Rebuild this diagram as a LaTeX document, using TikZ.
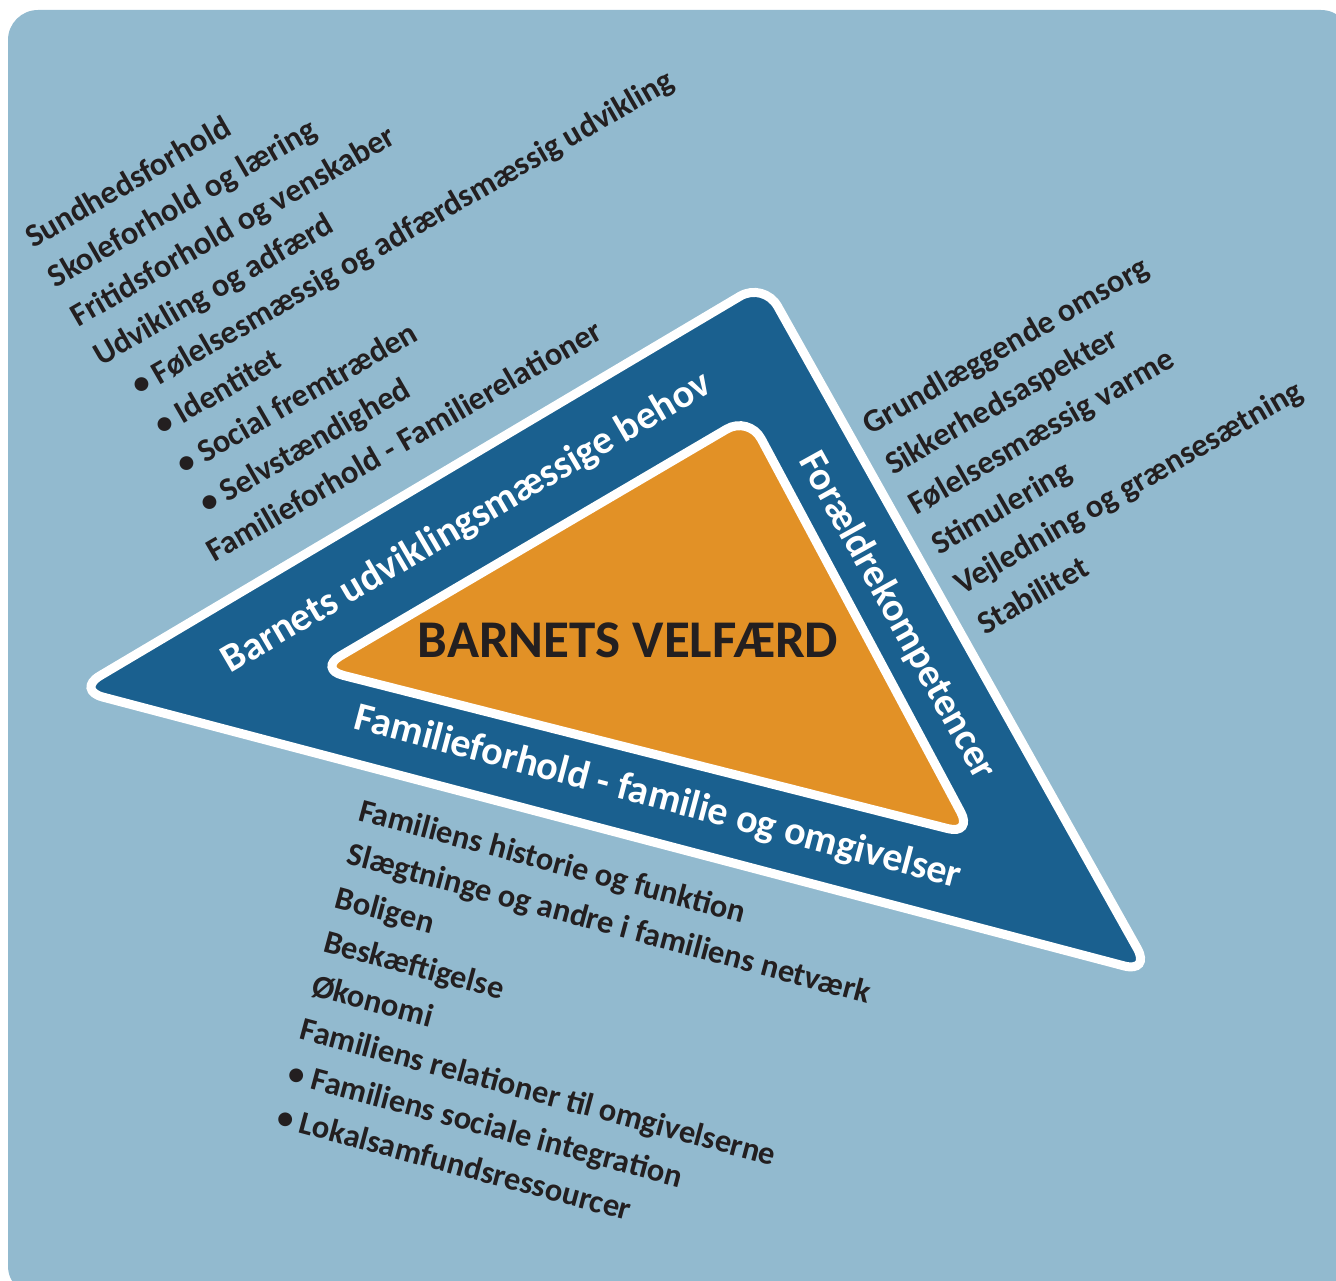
\documentclass[tikz,border=0pt]{standalone}
\usepackage{fontspec}
\setmainfont{Carlito}
\definecolor{bgblue}{RGB}{146,186,207}
\definecolor{darkblue}{RGB}{26,96,143}
\definecolor{myorange}{RGB}{226,145,38}
\definecolor{txt}{RGB}{35,31,32}
\begin{document}
\begin{tikzpicture}[x=1pt,y=-1pt,
  listtext/.style={anchor=base west, inner sep=0pt, text=txt, font=\bfseries\fontsize{32.5}{38}\selectfont},
  bandtext/.style={inner sep=0pt, text=white, font=\bfseries\fontsize{40}{46}\selectfont},
  titletext/.style={inner sep=0pt, text=txt, font=\bfseries\fontsize{53}{60}\selectfont},
  rim/.style={draw=white, line width=9pt}]
\useasboundingbox (0,0) rectangle (1336,1281);
% background panel
\fill[bgblue, rounded corners=30pt] (8,10) rectangle (1351,1296);
% outer triangle
\coordinate (oA) at (76,690);
\coordinate (oB) at (764,282);
\coordinate (oC) at (1151,973);
\draw[rim, fill=darkblue, rounded corners=28pt] (oA) -- (oB) -- (oC) -- cycle;
% inner triangle
\coordinate (iA) at (318,669);
\coordinate (iB) at (749,416);
\coordinate (iC) at (973,835);
\draw[rim, fill=myorange, rounded corners=26pt] (iA) -- (iB) -- (iC) -- cycle;
% band labels
\node[bandtext, rotate=30.3] (bandL) at (467,523) {Barnets udviklingsmæssige behov};
\node[bandtext, rotate=-61] (bandR) at (897,616) {Forældrekompetencer};
\node[bandtext, rotate=-14.8] (bandB) at (658,798) {Familieforhold - familie og omgivelser};
\node[titletext] (title) at (628,640) {BARNETS VELFÆRD};
% upper-left list
\begin{scope}[shift={(33,249)}, rotate=30, transform shape]
  \node[listtext] (ul1) at (0,0) {Sundhedsforhold};
  \node[listtext] (ul2) at (0,45.3) {Skoleforhold og læring};
  \node[listtext] (ul3) at (0,90.6) {Fritidsforhold og venskaber};
  \node[listtext] (ul4) at (0,135.9) {Udvikling og adfærd};
  \node[listtext] (ul5) at (18,181.2) {• Følelsesmæssig og adfærdsmæssig udvikling};
  \node[listtext] (ul6) at (18,226.5) {• Identitet};
  \node[listtext] (ul7) at (18,271.8) {• Social fremtræden};
  \node[listtext] (ul8) at (18,317.1) {• Selvstændighed};
  \node[listtext] (ul9) at (0,362.4) {Familieforhold - Familierelationer};
\end{scope}
% right list
\begin{scope}[shift={(870,436)}, rotate=30, transform shape]
  \node[listtext] (ur1) at (0,0) {Grundlæggende omsorg};
  \node[listtext] (ur2) at (0,46) {Sikkerhedsaspekter};
  \node[listtext] (ur3) at (0,92) {Følelsesmæssig varme};
  \node[listtext] (ur4) at (0,138) {Stimulering};
  \node[listtext] (ur5) at (0,184) {Vejledning og grænsesætning};
  \node[listtext] (ur6) at (0,230) {Stabilitet};
\end{scope}
% bottom list
\begin{scope}[shift={(357,820)}, rotate=-15, transform shape]
  \node[listtext] (bl1) at (0,0) {Familiens historie og funktion};
  \node[listtext] (bl2) at (0,45.3) {Slægtninge og andre i familiens netværk};
  \node[listtext] (bl3) at (0,90.6) {Boligen};
  \node[listtext] (bl4) at (0,135.9) {Beskæftigelse};
  \node[listtext] (bl5) at (0,181.2) {Økonomi};
  \node[listtext] (bl6) at (0,226.5) {Familiens relationer til omgivelserne};
  \node[listtext] (bl7) at (0,271.8) {• Familiens sociale integration};
  \node[listtext] (bl8) at (0,317.1) {• Lokalsamfundsressourcer};
\end{scope}
\end{tikzpicture}
\end{document}
